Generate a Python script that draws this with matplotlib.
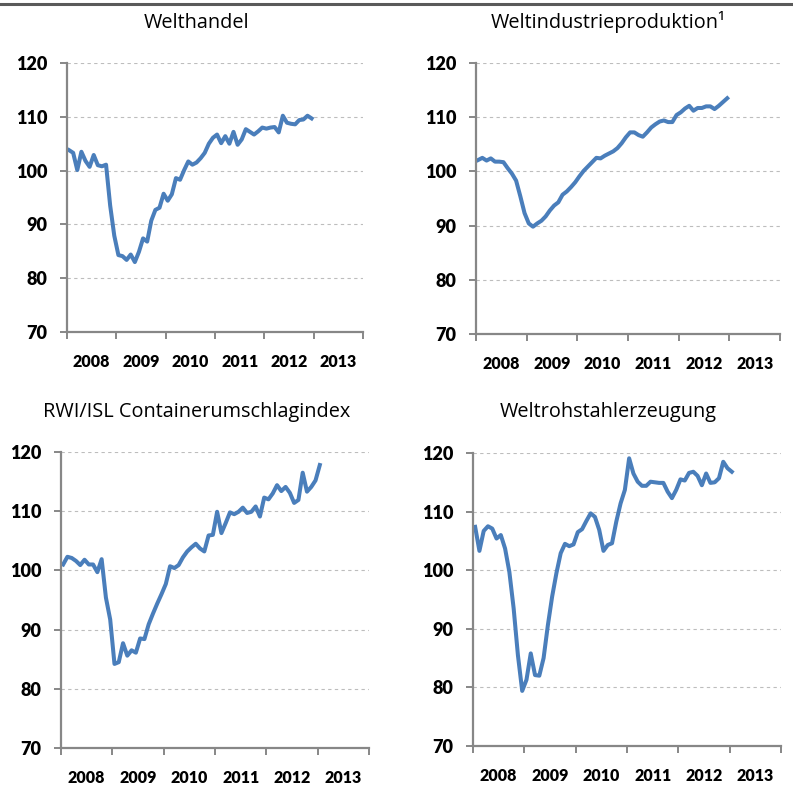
import numpy as np
import matplotlib
matplotlib.use("Agg")
import matplotlib.pyplot as plt
from matplotlib.lines import Line2D

plt.rcParams['font.family'] = ['Open Sans', 'DejaVu Sans']

# monthly index values, Jan 2008 onwards
welthandel = [103.8, 103.3, 100.1, 103.5, 101.8, 100.7, 102.9, 101.0, 100.8, 101.1,
              93.5, 87.9, 84.3, 84.1, 83.4, 84.4, 83.0, 84.9, 87.4, 86.8,
              90.7, 92.7, 93.1, 95.7, 94.4, 95.6, 98.6, 98.3, 100.1, 101.7,
              101.1, 101.5, 102.3, 103.3, 105.0, 106.1, 106.7, 105.1, 106.4, 105.0,
              107.2, 104.8, 105.8, 107.7, 107.2, 106.7, 107.3, 108.0, 107.8, 108.0,
              108.1, 107.1, 110.2, 108.9, 108.7, 108.6, 109.4, 109.5, 110.2, 109.7]

industrie = [102.1, 102.5, 102.0, 102.4, 101.8, 101.8, 101.7, 100.6, 99.6, 98.3,
             95.4, 92.3, 90.4, 89.8, 90.4, 90.9, 91.7, 92.8, 93.7, 94.3,
             95.7, 96.3, 97.1, 98.0, 99.1, 100.1, 100.9, 101.7, 102.5, 102.4,
             102.9, 103.3, 103.7, 104.3, 105.2, 106.3, 107.2, 107.2, 106.7, 106.4,
             107.2, 108.1, 108.7, 109.2, 109.4, 109.1, 109.1, 110.4, 110.9, 111.6,
             112.1, 111.2, 111.7, 111.7, 112.0, 112.0, 111.5, 112.1, 112.8, 113.5]

container = [101.0, 102.3, 102.1, 101.6, 100.9, 101.8, 101.0, 101.0, 99.7, 101.9,
             95.4, 91.7, 84.2, 84.5, 87.7, 85.6, 86.5, 86.1, 88.5, 88.4,
             90.9, 92.7, 94.4, 96.0, 97.7, 100.7, 100.4, 100.9, 102.2, 103.2,
             103.9, 104.5, 103.7, 103.2, 105.9, 106.0, 109.9, 106.3, 108.0, 109.8,
             109.5, 109.9, 110.6, 109.7, 109.9, 110.8, 109.1, 112.3, 112.0, 113.0,
             114.4, 113.4, 114.1, 113.1, 111.4, 111.9, 116.5, 113.3, 114.1, 115.2,
             117.8]

rohstahl = [107.4, 103.3, 106.7, 107.5, 107.1, 105.4, 106.0, 103.7, 99.7, 93.5,
            85.5, 79.4, 81.3, 85.8, 82.1, 82.0, 85.0, 90.6, 95.5, 99.5,
            102.9, 104.5, 104.1, 104.4, 106.5, 107.0, 108.4, 109.7, 109.1, 106.9,
            103.3, 104.3, 104.6, 108.3, 111.4, 113.7, 119.1, 116.5, 115.1, 114.4,
            114.4, 115.1, 115.0, 114.9, 114.9, 113.4, 112.3, 113.7, 115.5, 115.3,
            116.6, 116.8, 116.1, 114.5, 116.5, 114.9, 115.0, 115.7, 118.5, 117.4,
            116.8]

years = ['2008', '2009', '2010', '2011', '2012', '2013']
yticks = [70, 80, 90, 100, 110, 120]

W, H = 793, 788
fig = plt.figure(figsize=(W / 100, H / 100), dpi=100)

blue = '#4a7ebb'
gray = '#878787'
tickfont = ['Lato', 'DejaVu Sans']

# (title, data, left, right, top, bottom, title_x, title_baseline) in pixels
panels = [
    ('Welthandel', welthandel, 67, 363, 63, 332, 197, 28),
    ('Weltindustrieproduktion\u00b9', industrie, 476, 780, 63, 334, 608, 28),
    ('RWI/ISL Containerumschlagindex', container, 61, 369, 452, 748, 197, 417),
    ('Weltrohstahlerzeugung', rohstahl, 473, 781, 453, 746, 608, 417),
]

for title, vals, l, r, t, b, tx, ty in panels:
    ax = fig.add_axes([l / W, 1 - b / H, (r - l) / W, (b - t) / H])
    x = np.arange(len(vals))
    ax.plot(x, vals, color=blue, lw=2.9, solid_joinstyle='round', clip_on=False)

    ax.set_xlim(-0.5, 71.5)
    ax.set_ylim(70, 120)
    ax.set_yticks(yticks)
    ax.set_yticklabels([str(v) for v in yticks], fontweight='heavy', fontsize=13,
                       family=tickfont)

    ax.set_xticks(np.arange(-0.5, 72, 12))
    ax.set_xticklabels([])
    ax.set_xticks(np.arange(5.5, 72, 12), minor=True)
    ax.set_xticklabels(years, minor=True, fontweight='heavy', fontsize=11.5,
                       family=tickfont)

    ax.tick_params(axis='y', direction='out', length=5, width=1.4, color=gray, pad=9)
    ax.tick_params(axis='x', which='major', direction='out', length=5, width=1.4, color=gray)
    ax.tick_params(axis='x', which='minor', length=0, pad=16)

    for s in ['top', 'right']:
        ax.spines[s].set_visible(False)
    for s in ['left', 'bottom']:
        ax.spines[s].set_color(gray)
        ax.spines[s].set_linewidth(1.6)

    ax.yaxis.grid(True, color='#bdbdbd', lw=0.8, ls=(0, (3, 3)))
    ax.set_axisbelow(True)

    fig.text(tx / W, 1 - ty / H, title, ha='center', va='baseline', fontsize=14.3)

# grey rule across the top
fig.add_artist(Line2D([0, 1], [1 - 4 / H, 1 - 4 / H], transform=fig.transFigure,
                      color='#5a5a5a', lw=2.2))

fig.savefig('out.png', dpi=100)
